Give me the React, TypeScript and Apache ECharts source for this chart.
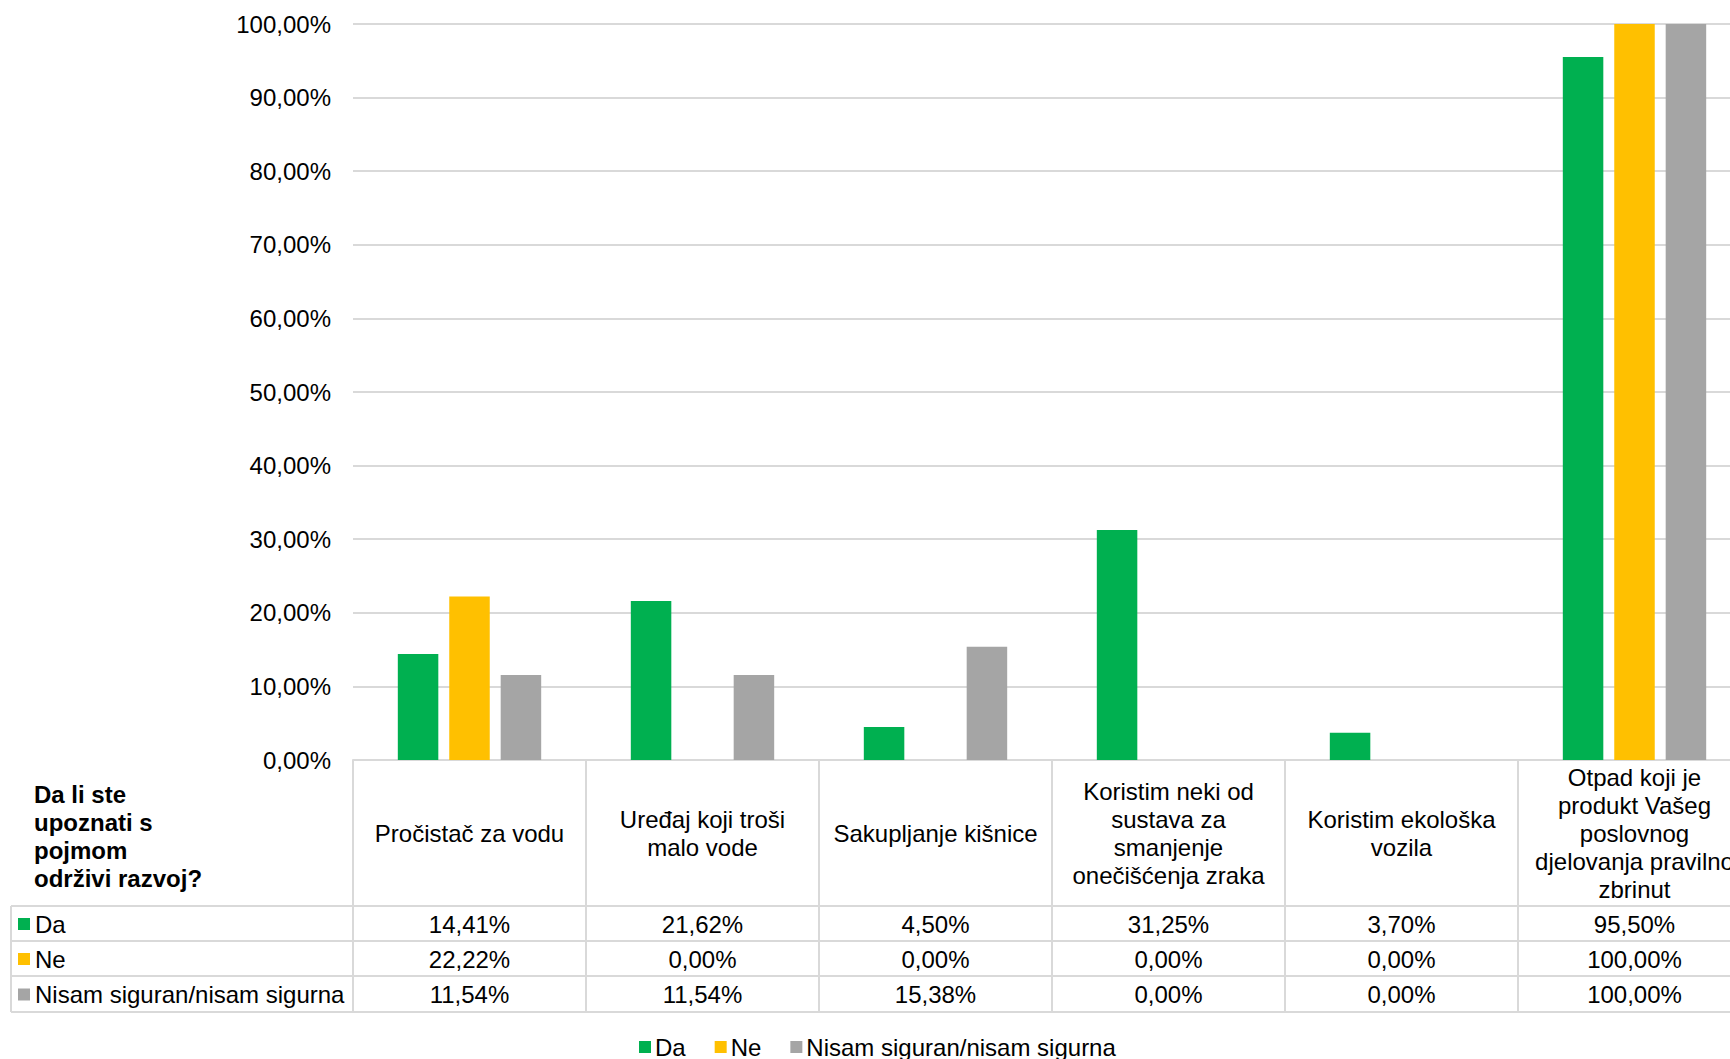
import React, { useEffect, useRef } from "react";
import * as echarts from "echarts";

const categories = [
  "Pročistač za vodu",
  "Uređaj koji troši\nmalo vode",
  "Sakupljanje kišnice",
  "Koristim neki od\nsustava za\nsmanjenje\nonečišćenja zraka",
  "Koristim ekološka\nvozila",
  "Otpad koji je\nprodukt Vašeg\nposlovnog\ndjelovanja pravilno\nzbrinut",
];
const seriesNames = ["Da", "Ne", "Nisam siguran/nisam sigurna"];
const daValues = [14.41, 21.62, 4.5, 31.25, 3.7, 95.5];
const neValues = [22.22, 0, 0, 0, 0, 100];
const nisamValues = [11.54, 11.54, 15.38, 0, 0, 100];
const seriesColors = ["#00B050", "#FFC000", "#A5A5A5"];
const yMin = 0;
const yMax = 100;
const yInterval = 10;
const tableTitle = "Da li ste\nupoznati s\npojmom\nodrživi razvoj?";

const FONT = '"Liberation Sans", Arial, sans-serif';
const FS = 24;
const LINE = "#D9D9D9";

const fmt = (v: number) => v.toFixed(2).replace(".", ",") + "%";

export default function App() {
  const ref = useRef<HTMLDivElement>(null);
  useEffect(() => {
    const chart = echarts.init(ref.current!, null, { renderer: "svg" });
    const allValues = [daValues, neValues, nisamValues];
    const gridTop = 24;
    const gridLeft = 353;
    const gridHeight = 736;
    const gridBottomY = gridTop + gridHeight;
    chart.setOption({
      animation: false,
      textStyle: { fontFamily: FONT },
      grid: { left: gridLeft, top: gridTop, width: 1398, height: gridHeight, containLabel: false },
      legend: {
        data: seriesNames,
        left: 634,
        top: 1030,
        icon: "rect",
        itemWidth: 12,
        itemHeight: 12,
        itemGap: 29,
        textStyle: { fontSize: FS, color: "#000", fontFamily: FONT, padding: [0, 0, 0, -1] },
      },
      xAxis: {
        type: "category",
        data: categories,
        axisLine: { show: true, lineStyle: { color: LINE, width: 2 } },
        axisTick: { show: false },
        axisLabel: {
          interval: 0,
          margin: 73,
          verticalAlign: "middle",
          lineHeight: 28,
          fontSize: FS,
          color: "#000",
          fontFamily: FONT,
          align: "center",
        },
      },
      yAxis: {
        type: "value",
        min: yMin,
        max: yMax,
        interval: yInterval,
        axisLine: { show: false },
        axisTick: { show: false },
        splitLine: { lineStyle: { color: LINE, width: 2 } },
        axisLabel: {
          margin: 22,
          fontSize: FS,
          color: "#000",
          fontFamily: FONT,
          formatter: (v: number) => fmt(v),
        },
      },
      series: allValues.map((vals, i) => ({
        name: seriesNames[i],
        type: "bar",
        data: vals,
        barWidth: 40.5,
        barGap: "27%",
        itemStyle: { color: seriesColors[i] },
      })),
    });

    const centers = categories.map((_, i) => chart.convertToPixel({ xAxisIndex: 0 }, i) as number);
    const band = centers.length > 1 ? centers[1] - centers[0] : 233;
    const rowLines = [906, 941, 976, 1012];
    const tableLeft = 11;
    const rightEdge = centers[centers.length - 1] + band / 2;
    const elements: any[] = [];
    for (let i = 0; i <= categories.length; i++) {
      const x = centers[0] - band / 2 + i * band;
      elements.push({
        type: "line",
        shape: { x1: x, y1: gridBottomY, x2: x, y2: rowLines[3] },
        style: { stroke: LINE, lineWidth: 2 },
      });
    }
    elements.push({
      type: "line",
      shape: { x1: tableLeft, y1: rowLines[0], x2: tableLeft, y2: rowLines[3] },
      style: { stroke: LINE, lineWidth: 2 },
    });
    rowLines.forEach((y) => {
      elements.push({
        type: "line",
        shape: { x1: tableLeft, y1: y, x2: rightEdge, y2: y },
        style: { stroke: LINE, lineWidth: 2 },
      });
    });
    elements.push({
      type: "text",
      x: 34,
      y: 836.5,
      style: {
        text: tableTitle,
        font: `bold ${FS}px ${FONT}`,
        fill: "#000",
        verticalAlign: "middle",
        align: "left",
        lineHeight: 27.7,
      },
    });
    allValues.forEach((vals, r) => {
      const yc = (rowLines[r] + rowLines[r + 1]) / 2 + 0.5;
      elements.push({
        type: "rect",
        shape: { x: 18, y: yc - 6, width: 12, height: 12 },
        style: { fill: seriesColors[r] },
      });
      elements.push({
        type: "text",
        x: 35,
        y: yc,
        style: {
          text: seriesNames[r],
          font: `${FS}px ${FONT}`,
          fill: "#000",
          verticalAlign: "middle",
          align: "left",
        },
      });
      vals.forEach((v, c) => {
        elements.push({
          type: "text",
          x: centers[c],
          y: yc,
          style: {
            text: fmt(v),
            font: `${FS}px ${FONT}`,
            fill: "#000",
            verticalAlign: "middle",
            align: "center",
          },
        });
      });
    });
    chart.setOption({ graphic: elements });
    return () => chart.dispose();
  }, []);
  return (
    <div
      style={{ position: "absolute", left: 0, top: 0, width: 1730, height: 1059, overflow: "hidden", background: "#fff" }}
    >
      <div ref={ref} style={{ position: "absolute", left: 0, top: 0, width: 1780, height: 1059 }} />
    </div>
  );
}
